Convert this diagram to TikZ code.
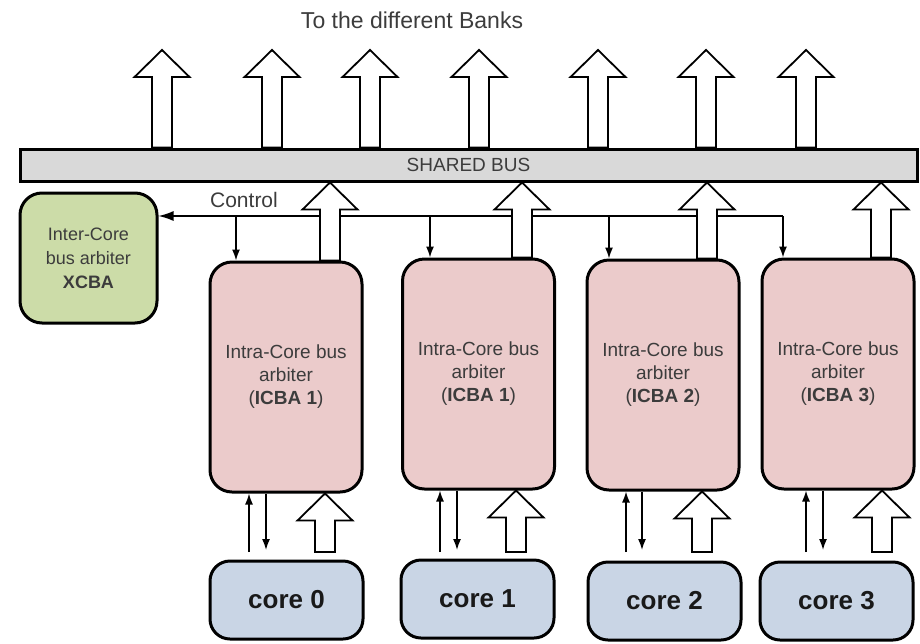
\documentclass[tikz,border=0pt]{standalone}
\usepackage{fontspec}
\setmainfont{Liberation Sans}
\usetikzlibrary{arrows.meta,calc}

\definecolor{busgray}{HTML}{D9D9D9}
\definecolor{pinkfill}{HTML}{EBCBCB}
\definecolor{corefill}{HTML}{C9D5E5}
\definecolor{greenfill}{HTML}{CCDCA8}
\definecolor{txtgray}{HTML}{3C3C3C}

\tikzset{
  box/.style={draw=black, line width=3pt, rounded corners=22pt, align=center, inner sep=0pt},
  arbiter/.style={box, fill=pinkfill, minimum width=152pt, minimum height=230pt,
    text=txtgray, font=\fontsize{19}{23}\selectfont},
  corebox/.style={box, rounded corners=20pt, fill=corefill, minimum width=153pt, minimum height=78pt,
    text=black!90, font=\bfseries\fontsize{26}{30}\selectfont},
  xbox/.style={box, fill=greenfill, minimum width=137pt, minimum height=130pt,
    text=txtgray, font=\fontsize{18}{24}\selectfont},
  busbox/.style={draw=black, line width=3pt, fill=busgray, minimum width=897pt, minimum height=32pt,
    inner sep=0pt, text=txtgray, font=\fontsize{19}{23}\selectfont},
  hollow/.style={draw=black, line width=1.8pt, fill=white, line join=miter},
  sig/.style={line width=1.5pt, -{Latex[length=11pt,width=8pt]}},
  label/.style={text=txtgray, inner sep=0pt},
}

% hollow block arrow pointing up: #1 = tip, #2 = foot of the shaft
\newcommand\hollowup[2]{%
  \draw[hollow] let \p1=(#1), \p2=(#2) in
    (\x1-10pt,\y2) -- (\x1-10pt,\y1-27pt) -- (\x1-27.5pt,\y1-27pt) -- (\x1,\y1)
    -- (\x1+27.5pt,\y1-27pt) -- (\x1+10pt,\y1-27pt) -- (\x1+10pt,\y2) -- cycle;}

\begin{document}
\begin{tikzpicture}[x=1pt, y=-1pt]
\useasboundingbox (0,0) rectangle (920,643);

% title
\node[label, font=\fontsize{23}{27}\selectfont] (title) at (412,20) {To the different Banks};

% shared bus
\node[busbox] (bus) at (468.5,165) {SHARED BUS};

% inter-core arbiter
\node[xbox] (xcba) at (88.5,258) {Inter-Core\\bus arbiter\\\textbf{XCBA}};

% intra-core arbiters
\node[arbiter] (p1) at (286,377)   {Intra-Core bus\\arbiter\\(\textbf{ICBA 1})};
\node[arbiter] (p2) at (478.5,374) {Intra-Core bus\\arbiter\\(\textbf{ICBA 1})};
\node[arbiter] (p3) at (663,375)   {Intra-Core bus\\arbiter\\(\textbf{ICBA 2})};
\node[arbiter] (p4) at (838,374)   {Intra-Core bus\\arbiter\\(\textbf{ICBA 3})};

% cores
\node[corebox] (c0) at (286.5,600) {core 0};
\node[corebox] (c1) at (477.5,599) {core 1};
\node[corebox] (c2) at (664.5,601) {core 2};
\node[corebox] (c3) at (836.5,601) {core 3};

% control line from the arbiters to the inter-core arbiter
\coordinate (k1) at (236,216);
\coordinate (k2) at (430,216);
\coordinate (k3) at (609,216);
\coordinate (k4) at (783,216);
\draw[line width=1.5pt, -{Latex[length=15pt,width=10pt]}] (k4) -- (xcba.east |- k4);
\node[label, font=\fontsize{21}{25}\selectfont] (ctl) at (244,200) {Control};
\draw[sig] (k1) -- (k1 |- p1.north);
\draw[sig] (k2) -- (k2 |- p2.north);
\draw[sig] (k3) -- (k3 |- p3.north);
\draw[sig] (k4) -- (k4 |- p4.north);

% outputs of the bus towards the banks
\foreach \x [count=\i] in {162,272,370,479,598,706,806}{
  \coordinate (t\i) at (\x,50);
  \hollowup{t\i}{t\i |- bus.north}
}

% arbiters to the shared bus
\coordinate (a1) at (330,0);
\coordinate (a2) at (522,0);
\coordinate (a3) at (707,0);
\coordinate (a4) at (881,0);
\hollowup{a1 |- bus.south}{a1 |- p1.north}
\hollowup{a2 |- bus.south}{a2 |- p2.north}
\hollowup{a3 |- bus.south}{a3 |- p3.north}
\hollowup{a4 |- bus.south}{a4 |- p4.north}

% cores to their arbiters
\coordinate (u0) at (249,552); \coordinate (d0) at (266,550); \coordinate (f0) at (325,552);
\coordinate (u1) at (440,552); \coordinate (d1) at (457,550); \coordinate (f1) at (516,552);
\coordinate (u2) at (626,552); \coordinate (d2) at (642,550); \coordinate (f2) at (702,552);
\coordinate (u3) at (806,552); \coordinate (d3) at (823,550); \coordinate (f3) at (882,552);

\draw[sig] (u0) -- (u0 |- p1.south);
\draw[sig] (d0 |- p1.south) -- (d0);
\hollowup{f0 |- p1.south}{f0}
\draw[sig] (u1) -- (u1 |- p2.south);
\draw[sig] (d1 |- p2.south) -- (d1);
\hollowup{f1 |- p2.south}{f1}
\draw[sig] (u2) -- (u2 |- p3.south);
\draw[sig] (d2 |- p3.south) -- (d2);
\hollowup{f2 |- p3.south}{f2}
\draw[sig] (u3) -- (u3 |- p4.south);
\draw[sig] (d3 |- p4.south) -- (d3);
\hollowup{f3 |- p4.south}{f3}
\end{tikzpicture}
\end{document}
